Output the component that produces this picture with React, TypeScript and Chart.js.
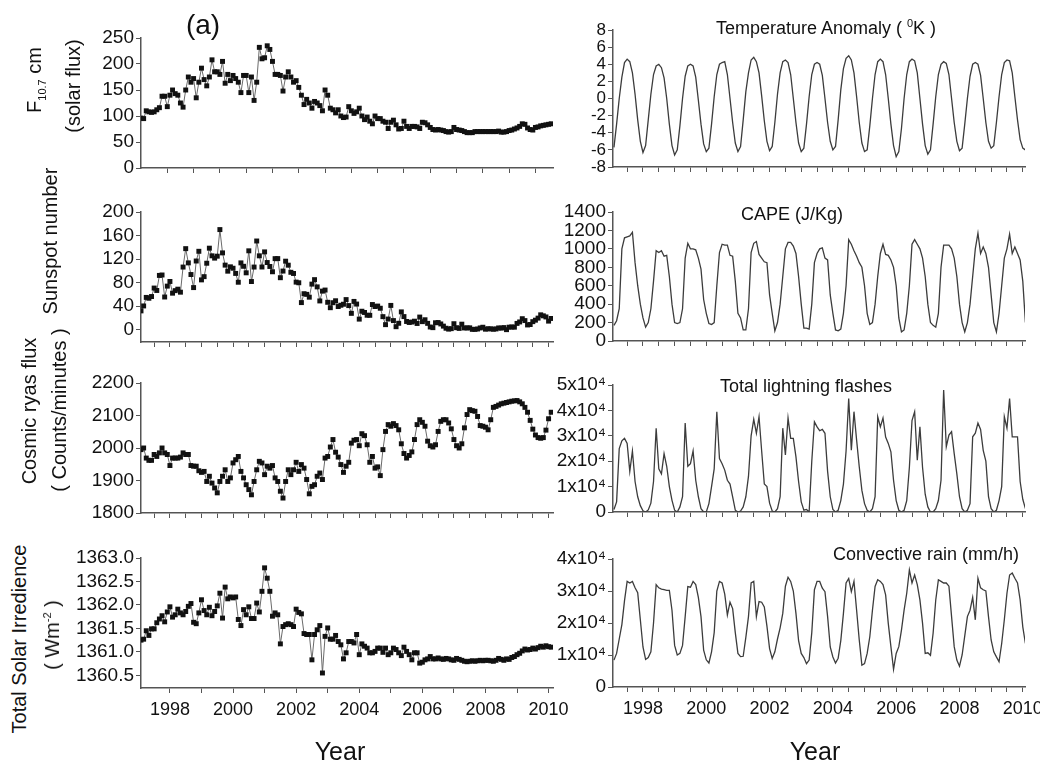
import React, { useEffect, useRef } from 'react';
import { Chart, registerables } from 'chart.js';

Chart.register(...registerables);

const FONT = '"Liberation Sans", Arial, Helvetica, sans-serif';
Chart.defaults.font.family = FONT;

// first monthly sample sits on the left axis of the figure
const FIRST_X = 1997 + 1 / 12;

// ---------------- left column (monthly, markers) ----------------
const f107: number[] = [
  96, 95, 110, 108, 107, 108, 112, 116, 138, 138, 118, 140,
  150, 143, 140, 125, 117, 150, 175, 165, 172, 135, 165, 192,
  170, 158, 175, 208, 185, 185, 180, 205, 163, 180, 168, 178,
  172, 165, 145, 178, 178, 145, 175, 130, 165, 232, 210, 212,
  235, 228, 205, 180, 180, 178, 148, 175, 185, 175, 165, 168,
  155, 140, 122, 132, 125, 115, 128, 125, 120, 110, 150, 140,
  115, 112, 106, 112, 100, 97, 98, 118, 110, 105, 108, 115,
  100, 93, 98, 90, 85, 100, 95, 95, 90, 88, 76, 88,
  92, 83, 75, 76, 90, 80, 76, 80, 80, 79, 76, 88,
  87, 83, 78, 74, 73, 74, 73, 72, 70, 69, 70, 78,
  74, 73, 72, 70, 68, 68, 68, 70, 70, 70, 70, 70,
  70, 70, 70, 70, 71, 69, 69, 70, 72, 73, 75, 77,
  80, 85, 84, 77, 74, 73, 78, 79, 81, 82, 83, 84,
  85,
];

const sunspot: number[] = [
  31.9, 40.3, 54.8, 53.4, 56.3, 70.7, 66.6, 92.2, 92.9, 55.5, 74.0, 81.9,
  62.0, 66.3, 68.8, 63.7, 106.4, 137.7, 113.5, 93.7, 71.5, 116.7, 133.2, 84.6,
  90.1, 112.9, 138.5, 125.5, 121.6, 124.9, 170.1, 130.5, 109.7, 99.4, 106.8, 104.4,
  95.6, 80.6, 113.5, 107.7, 96.6, 134.0, 81.8, 106.4, 150.7, 125.5, 106.5, 132.2,
  114.1, 107.4, 98.4, 120.7, 120.8, 88.3, 99.6, 116.4, 109.6, 97.5, 95.5, 80.8,
  79.7, 46.0, 61.1, 60.0, 55.2, 77.4, 85.0, 72.7, 48.8, 65.5, 67.3, 46.5,
  37.3, 45.8, 49.1, 39.3, 41.5, 43.2, 51.1, 40.9, 27.7, 48.0, 43.5, 17.9,
  31.3, 29.2, 24.5, 24.4, 42.7, 39.3, 40.1, 36.4, 22.1, 8.5, 18.0, 41.2,
  15.4, 5.0, 10.8, 30.2, 22.2, 13.9, 12.2, 12.9, 14.4, 10.5, 21.4, 13.6,
  16.8, 10.7, 4.5, 3.4, 11.7, 12.1, 9.7, 6.0, 2.4, 0.9, 1.7, 10.1,
  3.3, 2.1, 9.3, 2.9, 2.9, 3.1, 0.5, 0.5, 1.1, 2.9, 4.1, 0.8,
  1.5, 1.4, 0.7, 1.2, 2.9, 2.6, 3.5, 0.0, 4.2, 4.6, 4.2, 10.6,
  13.1, 18.6, 15.4, 8.0, 8.7, 13.6, 16.1, 19.6, 25.2, 23.5, 21.6, 14.5,
  19.0,
];

const cosmic: number[] = [
  1995, 2000, 1969, 1962, 1962, 1980, 1974, 1985, 2000, 1985, 1980, 1946,
  1969, 1969, 1969, 1972, 1985, 1980, 1980, 1946, 1944, 1944, 1930, 1925,
  1928, 1897, 1913, 1892, 1877, 1862, 1897, 1913, 1933, 1897, 1908, 1954,
  1964, 1974, 1928, 1908, 1887, 1872, 1856, 1897, 1933, 1959, 1954, 1918,
  1944, 1938, 1946, 1908, 1897, 1867, 1846, 1897, 1933, 1918, 1933, 1956,
  1928, 1949, 1938, 1903, 1859, 1882, 1887, 1913, 1923, 1903, 1969, 1974,
  2003, 2026, 1987, 1972, 1949, 1925, 1944, 1956, 2015, 2024, 2026, 2007,
  2044, 2038, 2010, 1956, 1974, 1938, 1942, 1915, 1995, 2051, 2072, 2067,
  2075, 2069, 2056, 2013, 1983, 1969, 1977, 1988, 2026, 2072, 2087, 2079,
  2067, 2021, 2007, 2003, 2010, 2051, 2082, 2087, 2087, 2077, 2059, 2026,
  2007, 2000, 2013, 2062, 2103, 2118, 2115, 2113, 2097, 2069, 2067, 2064,
  2056, 2087, 2125, 2128, 2132, 2136, 2138, 2140, 2142, 2144, 2145, 2146,
  2142, 2136, 2125, 2110, 2085, 2058, 2040, 2032, 2030, 2032, 2055, 2090,
  2110,
];

const tsi: number[] = [
  1361.25, 1361.27, 1361.45, 1361.35, 1361.49, 1361.49, 1361.62, 1361.70, 1361.77, 1361.64, 1361.85, 1361.96,
  1361.74, 1361.79, 1361.91, 1361.83, 1361.79, 1361.86, 1361.97, 1362.03, 1361.63, 1361.60, 1361.83, 1362.11,
  1361.88, 1361.79, 1361.95, 1361.77, 1361.86, 1361.98, 1362.25, 1361.72, 1362.38, 1362.13, 1362.17, 1362.15,
  1362.17, 1361.69, 1361.56, 1361.90, 1361.79, 1361.96, 1361.71, 1361.71, 1362.04, 1361.85, 1362.29, 1362.79,
  1362.57, 1362.29, 1361.76, 1361.83, 1361.79, 1361.17, 1361.54, 1361.58, 1361.60, 1361.58, 1361.54, 1361.91,
  1361.84, 1361.81, 1361.39, 1361.37, 1361.37, 1360.83, 1361.37, 1361.47, 1361.56, 1360.55, 1361.33, 1361.51,
  1361.27, 1361.27, 1361.35, 1361.22, 1361.15, 1360.85, 1360.98, 1361.22, 1361.22, 1361.19, 1361.37, 1360.94,
  1361.17, 1361.12, 1361.08, 1360.98, 1360.98, 1361.01, 1361.08, 1361.08, 1360.99, 1361.08, 1360.94, 1360.98,
  1361.08, 1361.05, 1360.98, 1360.92, 1361.10, 1361.01, 1360.94, 1360.83, 1360.98, 1360.98, 1360.76, 1360.78,
  1360.83, 1360.85, 1360.90, 1360.85, 1360.85, 1360.87, 1360.85, 1360.84, 1360.86, 1360.85, 1360.83, 1360.82,
  1360.86, 1360.84, 1360.82, 1360.80, 1360.79, 1360.80, 1360.81, 1360.80, 1360.81, 1360.82, 1360.81, 1360.82,
  1360.82, 1360.81, 1360.80, 1360.82, 1360.86, 1360.84, 1360.82, 1360.85, 1360.84, 1360.88, 1360.90, 1360.94,
  1360.97, 1361.02, 1361.06, 1361.04, 1361.05, 1361.08, 1361.06, 1361.09, 1361.12, 1361.10, 1361.13, 1361.11,
  1361.10,
];

// ---------------- right column (monthly, line only) ----------------
const tempAnomaly: number[] = [
  -5.7, -3.0, 0.0, 2.5, 4.2, 4.6, 4.3, 3.0, 0.5, -2.5, -5.0, -6.3,
  -5.5, -2.5, 0.5, 2.8, 3.8, 4.0, 3.6, 2.4, 0.0, -3.0, -5.5, -6.6,
  -6.0, -3.2, 0.0, 2.6, 3.8, 4.0, 3.8, 2.5, -0.2, -3.0, -5.3, -6.2,
  -5.8, -3.0, 0.2, 2.8, 4.0, 4.2, 4.3, 2.8, 0.0, -2.8, -5.2, -6.2,
  -5.6, -2.5, 0.8, 3.0, 4.5, 4.8, 4.3, 3.0, 0.3, -2.6, -5.0, -6.1,
  -5.6, -2.8, 0.5, 3.0, 4.3, 4.5, 4.2, 2.8, 0.0, -2.8, -5.2, -6.2,
  -5.8, -3.0, 0.2, 2.8, 4.0, 4.2, 4.0, 2.7, 0.0, -2.8, -5.0, -6.0,
  -5.6, -2.5, 1.0, 3.5, 4.7, 5.0, 4.5, 3.0, 0.2, -2.8, -5.2, -6.2,
  -6.0, -3.2, 0.0, 2.8, 4.3, 4.6, 4.3, 2.8, 0.0, -3.0, -5.5, -6.8,
  -6.2, -3.5, 0.0, 2.8, 4.3, 4.6, 4.4, 3.0, 0.0, -3.0, -5.5, -6.5,
  -6.0, -3.0, 0.2, 2.8, 4.0, 4.3, 4.1, 2.8, 0.0, -2.8, -5.0, -6.1,
  -5.8, -3.0, 0.0, 2.6, 4.0, 4.2, 4.0, 2.7, 0.0, -2.8, -5.0, -5.8,
  -5.5, -2.8, 0.2, 2.8, 4.2, 4.5, 4.4, 3.0, 0.2, -2.5, -4.8, -5.8,
  -6.0,
];

const cape: number[] = [
  170, 220, 350, 1000, 1120, 1130, 1140, 1180, 850, 600, 400, 250,
  150, 200, 350, 650, 980, 960, 980, 920, 930, 700, 400, 200,
  190, 200, 350, 900, 1060, 1000, 1000, 990, 900, 780, 450, 300,
  190, 180, 200, 600, 960, 1050, 1040, 1040, 930, 920, 650, 300,
  250, 120, 120, 350, 960, 1060, 1080, 940, 900, 860, 850, 500,
  300, 110, 200, 400, 700, 1000, 1070, 1070, 1030, 950, 700, 400,
  140, 140, 130, 400, 850, 950, 1000, 1010, 900, 880, 500, 300,
  120, 110, 130, 300, 600, 1100, 1050, 980, 920, 850, 800, 600,
  300, 180, 200, 400, 700, 950, 1050, 940, 930, 880, 800, 600,
  250, 100, 120, 300, 600, 1050, 1100, 1050, 1000, 900, 700, 400,
  200, 170, 150, 300, 800, 1040, 1040, 1040, 1000, 900, 700, 400,
  200, 100, 200, 400, 700, 1000, 1170, 950, 1020, 950, 800, 500,
  200, 100, 300, 600, 900, 1000, 1160, 950, 1020, 950, 880, 650,
  200,
];

const lightning: number[] = [
  1000, 4000, 25000, 28000, 29000, 27000, 16000, 24000, 12000, 6000, 2500, 500,
  0, 800, 3500, 12000, 33000, 17000, 15000, 23000, 18000, 10000, 4600, 700,
  0, 2000, 6000, 35000, 18000, 19000, 24000, 12500, 6000, 1300, 0, 0,
  3300, 10000, 17000, 39500, 21000, 19000, 16500, 12500, 11000, 6000, 700, 0,
  400, 2000, 6000, 14000, 30000, 36500, 31000, 37500, 24000, 11000, 10000, 3500,
  400, 0, 1300, 6000, 33000, 22500, 37000, 29000, 29000, 21700, 12000, 4000,
  700, 1000, 0, 20000, 35500, 33500, 32000, 32500, 31000, 16000, 6000, 1000,
  0, 700, 4500, 11000, 24000, 44700, 24300, 39500, 28300, 17800, 8500, 3300,
  700, 0, 1300, 6000, 37500, 33500, 37000, 29500, 27000, 23700, 12500, 4500,
  700, 0, 700, 4500, 17500, 36000, 39500, 20400, 33500, 17500, 7000, 2000,
  0, 0, 1300, 4500, 12500, 48000, 25700, 30300, 31600, 23000, 15000, 6000,
  1300, 0, 700, 3300, 29600, 31000, 35000, 32500, 24300, 20000, 6000, 1300,
  0, 700, 4500, 10000, 37500, 33000, 44700, 29600, 29600, 29600, 12000, 5000,
  1300,
];

const convRain: number[] = [
  8400, 10500, 15000, 19500, 27000, 33000, 32500, 33000, 31000, 29500, 21000, 12500,
  8600, 9200, 11000, 20000, 32000, 31000, 30600, 30400, 30200, 30200, 24000, 13000,
  10000, 10500, 13000, 22000, 31400, 31200, 33000, 32000, 28000, 22000, 11500, 8500,
  7500, 11000, 17000, 30000, 33000, 32500, 29000, 22500, 26500, 24500, 17000, 10500,
  9500, 9600, 15500, 22000, 32500, 33000, 22000, 26700, 26500, 25000, 19000, 12000,
  8900, 11000, 15000, 18500, 23000, 31500, 34300, 33000, 30000, 23000, 14500, 10500,
  9200, 7300, 8400, 17000, 30400, 33000, 33000, 30900, 29800, 22000, 12500, 9400,
  7500, 9000, 14500, 23000, 32500, 33900, 29800, 33000, 24000, 14700, 6800, 7300,
  10500, 15700, 24000, 31400, 33500, 33000, 32000, 28800, 19900, 12600, 5500, 10500,
  12600, 17800, 24000, 29300, 36600, 32500, 35000, 32000, 27200, 19900, 10500, 10700,
  9900, 16800, 27200, 33500, 33000, 32500, 32500, 31500, 22000, 12600, 8400, 6500,
  10000, 16000, 22000, 24000, 28000, 21000, 34000, 31000, 30400, 30000, 22000, 14700,
  11000, 9400, 7900, 13600, 21000, 29300, 35000, 35600, 34000, 32500, 27200, 18800,
  13600,
];

// ---------------- ticks ----------------
const yearLabels = ['1998', '2000', '2002', '2004', '2006', '2008', '2010'];
const halfYearTicks = Array.from({ length: 26 }, (_, k) => 1997.5 + k * 0.5);
const yearTicks = Array.from({ length: 13 }, (_, k) => 1998 + k);
const tenMonthTicks = Array.from({ length: 15 }, (_, k) => FIRST_X + (10 * (k + 1)) / 12);

const f107Ticks = [0, 50, 100, 150, 200, 250];
const f107Labels = ['0', '50', '100', '150', '200', '250'];
const sunspotTicks = [0, 40, 80, 120, 160, 200];
const sunspotLabels = ['0', '40', '80', '120', '160', '200'];
const cosmicTicks = [1800, 1900, 2000, 2100, 2200];
const cosmicLabels = ['1800', '1900', '2000', '2100', '2200'];
const tsiTicks = [1360.5, 1361.0, 1361.5, 1362.0, 1362.5, 1363.0];
const tsiLabels = ['1360.5', '1361.0', '1361.5', '1362.0', '1362.5', '1363.0'];
const tempTicks = [-8, -6, -4, -2, 0, 2, 4, 6, 8];
const tempLabels = ['-8', '-6', '-4', '-2', '0', '2', '4', '6', '8'];
const capeTicks = [0, 200, 400, 600, 800, 1000, 1200, 1400];
const capeLabels = ['0', '200', '400', '600', '800', '1000', '1200', '1400'];
const flashTicks = [0, 10000, 20000, 30000, 40000, 50000];
const flashLabels = ['0', '1x10\u2074', '2x10\u2074', '3x10\u2074', '4x10\u2074', '5x10\u2074'];
const rainTicks = [0, 10000, 20000, 30000, 40000];
const rainLabels = ['0', '1x10\u2074', '2x10\u2074', '3x10\u2074', '4x10\u2074'];

const Y_W = 100;
const PAD_T = 16;
const PAD_R = 26;

type PanelProps = {
  values: number[];
  area: [number, number, number, number];
  xMin: number;
  xMax: number;
  xTicks: number[];
  xLabels: boolean;
  yMin: number;
  yMax: number;
  yTicks: number[];
  yLabels: string[];
  markers: boolean;
  yFont?: number;
};

function Panel(p: PanelProps) {
  const ref = useRef<HTMLCanvasElement | null>(null);
  const [L, T, R, B] = p.area;
  const xH = p.xLabels ? 50 : 14;
  const w = Y_W + (R - L) + PAD_R;
  const h = PAD_T + (B - T) + xH;
  useEffect(() => {
    if (!ref.current) return;
    const pts = p.values.map((v, i) => ({ x: FIRST_X + i / 12, y: v }));
    const axisGrid = {
      display: true,
      drawOnChartArea: false,
      drawTicks: true,
      tickLength: 5,
      color: '#555',
      lineWidth: 1,
    };
    const axisBorder = { display: true, color: '#555', width: 1.5 };
    const chart = new Chart(ref.current, {
      type: 'line',
      data: {
        datasets: [
          {
            data: pts,
            borderColor: p.markers ? '#6a6a6a' : '#3c3c3c',
            borderWidth: p.markers ? 1 : 1.3,
            pointStyle: 'rect',
            pointRadius: p.markers ? 3.5 : 0,
            pointBackgroundColor: '#111',
            pointBorderWidth: 0,
            tension: 0,
          },
        ],
      },
      options: {
        animation: false,
        responsive: false,
        maintainAspectRatio: false,
        events: [],
        layout: { padding: { top: PAD_T, right: PAD_R, left: 0, bottom: 0 } },
        plugins: { legend: { display: false }, tooltip: { enabled: false } },
        scales: {
          x: {
            type: 'linear',
            bounds: 'data',
            min: p.xMin,
            max: p.xMax,
            afterBuildTicks: (ax: any) => {
              ax.ticks = p.xTicks.map((v) => ({ value: v }));
            },
            afterFit: (ax: any) => {
              ax.height = xH;
            },
            ticks: {
              autoSkip: false,
              maxRotation: 0,
              minRotation: 0,
              padding: 6,
              color: '#111',
              font: { family: FONT, size: 18 },
              callback: (v: any) => {
                if (!p.xLabels) return '';
                const l = yearLabels.find((s) => Math.abs(Number(s) - Number(v)) < 1e-6);
                return l ?? '';
              },
            },
            grid: axisGrid,
            border: axisBorder,
          },
          y: {
            type: 'linear',
            bounds: 'data',
            min: p.yMin,
            max: p.yMax,
            afterBuildTicks: (ax: any) => {
              ax.ticks = p.yTicks.map((v) => ({ value: v }));
            },
            afterFit: (ax: any) => {
              ax.width = Y_W;
            },
            ticks: {
              autoSkip: false,
              padding: 2,
              color: '#111',
              font: { family: FONT, size: p.yFont ?? 19 },
              callback: (v: any) => {
                const k = p.yTicks.findIndex((t) => Math.abs(t - Number(v)) < 1e-6);
                return k >= 0 ? p.yLabels[k] : '';
              },
            },
            grid: axisGrid,
            border: axisBorder,
          },
        },
      } as any,
    });
    return () => chart.destroy();
  }, []);
  return (
    <canvas
      ref={ref}
      width={w}
      height={h}
      style={{ position: 'absolute', left: L - Y_W, top: T - PAD_T, width: w, height: h, display: 'block' }}
    />
  );
}

const txt = (cx: number, cy: number, size: number, content: React.ReactNode, rotate = false) => (
  <div
    style={{
      position: 'absolute',
      left: cx,
      top: cy,
      transform: rotate ? 'translate(-50%,-50%) rotate(-90deg)' : 'translate(-50%,-50%)',
      whiteSpace: 'nowrap',
      fontFamily: FONT,
      fontSize: size,
      lineHeight: 1,
      color: '#111',
    }}
  >
    {content}
  </div>
);

const LX0 = FIRST_X;
const LX1 = 2010.14;
const RX0 = 1997.053;
const RX1 = 2010.07;

export default function App() {
  return (
    <div
      style={{
        position: 'absolute',
        left: 0,
        top: 0,
        width: 1040,
        height: 767,
        overflow: 'hidden',
        background: '#fff',
      }}
    >
      <Panel values={f107} area={[141, 38, 553, 168]} xMin={LX0} xMax={LX1} xTicks={tenMonthTicks} xLabels={false}
        yMin={0} yMax={250} yTicks={f107Ticks} yLabels={f107Labels} markers />
      <Panel values={sunspot} area={[141, 212, 553, 342]} xMin={LX0} xMax={LX1} xTicks={halfYearTicks} xLabels={false}
        yMin={-21} yMax={200} yTicks={sunspotTicks} yLabels={sunspotLabels} markers />
      <Panel values={cosmic} area={[141, 383, 553, 513]} xMin={LX0} xMax={LX1} xTicks={halfYearTicks} xLabels={false}
        yMin={1800} yMax={2200} yTicks={cosmicTicks} yLabels={cosmicLabels} markers />
      <Panel values={tsi} area={[141, 558, 553, 688]} xMin={LX0} xMax={LX1} xTicks={yearTicks} xLabels
        yMin={1360.23} yMax={1363.0} yTicks={tsiTicks} yLabels={tsiLabels} markers />

      <Panel values={tempAnomaly} area={[613, 30, 1025, 167]} xMin={RX0} xMax={RX1} xTicks={halfYearTicks} xLabels={false}
        yMin={-8} yMax={8} yTicks={tempTicks} yLabels={tempLabels} markers={false} yFont={17} />
      <Panel values={cape} area={[613, 212, 1025, 341]} xMin={RX0} xMax={RX1} xTicks={halfYearTicks} xLabels={false}
        yMin={0} yMax={1400} yTicks={capeTicks} yLabels={capeLabels} markers={false} />
      <Panel values={lightning} area={[613, 385, 1025, 512]} xMin={RX0} xMax={RX1} xTicks={halfYearTicks} xLabels={false}
        yMin={0} yMax={50000} yTicks={flashTicks} yLabels={flashLabels} markers={false} />
      <Panel values={convRain} area={[613, 559, 1025, 687]} xMin={RX0} xMax={RX1} xTicks={halfYearTicks} xLabels
        yMin={0} yMax={40000} yTicks={rainTicks} yLabels={rainLabels} markers={false} />

      {txt(203, 25, 28, '(a)')}

      {txt(36, 80, 20, <span>F<sub style={{ fontSize: 11, verticalAlign: 'sub' }}>10.7</sub> cm</span>, true)}
      {txt(73, 86, 20, '(solar flux)', true)}
      {txt(50, 241, 20, 'Sunspot number', true)}
      {txt(29, 411, 20, 'Cosmic ryas flux', true)}
      {txt(59, 410, 20, '( Counts/minutes )', true)}
      {txt(19, 639, 20, 'Total Solar Irredience', true)}
      {txt(52, 635, 20, <span>( Wm<sup style={{ fontSize: 11, verticalAlign: 'super' }}>-2</sup> )</span>, true)}

      {txt(826, 27, 18, <span>Temperature Anomaly ( <sup style={{ fontSize: 11, verticalAlign: 'super' }}>0</sup>K )</span>)}
      {txt(792, 214, 18, 'CAPE (J/Kg)')}
      {txt(806, 386, 18, 'Total lightning flashes')}
      {txt(926, 554, 18, 'Convective rain (mm/h)')}

      {txt(340, 751, 25, 'Year')}
      {txt(815, 751, 25, 'Year')}
    </div>
  );
}
